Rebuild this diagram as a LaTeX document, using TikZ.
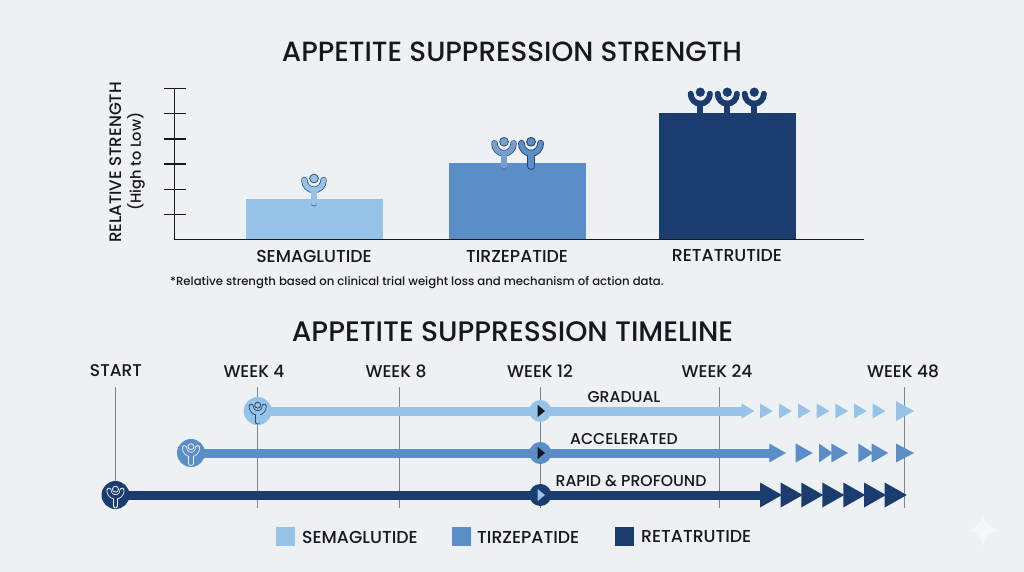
\documentclass[tikz,border=0pt]{standalone}
\usepackage{fontspec}
\setmainfont{Poppins Medium}
\definecolor{bgc}{HTML}{EDF1F4}
\definecolor{sem}{HTML}{96C3E7}
\definecolor{tir}{HTML}{5B8EC6}
\definecolor{ret}{HTML}{1A3C6E}
\definecolor{ink}{HTML}{15181C}
\definecolor{rule}{HTML}{7F8488}
\definecolor{iconline}{HTML}{24466F}
\newcommand{\fs}[1]{\fontsize{#1}{#1}\selectfont}
\tikzset{
  x=1pt,y=-1pt,
  txt/.style={text=ink,inner sep=0pt,anchor=center},
  titletxt/.style={txt,font=\fs{27.8}},
  weektxt/.style={txt,font=\fs{17}},
  cattxt/.style={txt,font=\fs{17.3}},
  legtxt/.style={txt,font=\fs{17.3},anchor=west},
  phasetxt/.style={txt,font=\fs{15.7}},
  vrule/.style={draw=rule,line width=0.9pt},
  axisline/.style={draw=ink,line width=1.1pt},
  startdot/.style={circle,minimum size=28pt,inner sep=0pt},
  weekdot/.style={circle,minimum size=22pt,inner sep=0pt},
  track/.style={line width=9pt},
}
% x, y (head centre), scale, fill, outline, outline width
\newcommand{\person}[6]{%
  \begin{scope}[shift={(#1,#2)},scale=#3,line cap=round]
    \draw[#5,line width=#3*5pt+2*#6] (-9.6,1) .. controls (-9.6,6.5) and (-5.4,11) .. (0,11) .. controls (5.4,11) and (9.6,6.5) .. (9.6,1);
    \draw[#5,line width=#3*5.4pt+2*#6] (0,11) -- (0,24);
    \draw[#4,line width=#3*5pt] (-9.6,1) .. controls (-9.6,6.5) and (-5.4,11) .. (0,11) .. controls (5.4,11) and (9.6,6.5) .. (9.6,1);
    \draw[#4,line width=#3*5.4pt] (0,11) -- (0,24);
    \fill[#4,draw=#5,line width=#6] (0,-0.5) circle[radius=4.4];
  \end{scope}}
\newcommand{\tri}[5]{\fill[#5] (#1,#3-#4) -- (#2,#3) -- (#1,#3+#4) -- cycle;}
\begin{document}
\begin{tikzpicture}
\useasboundingbox (0,0) rectangle (1024,572);
\fill[bgc] (0,0) rectangle (1024,572);

% titles
\node[titletxt] (t1) at (512,52) {APPETITE SUPPRESSION STRENGTH};
\node[titletxt,font=\fs{28.2}] (t2) at (512.5,332) {APPETITE SUPPRESSION TIMELINE};

% chart bars
\fill[sem] (246,199) rectangle (383,239);
\fill[tir] (449,162.7) rectangle (586,239);
\fill[ret] (659,113.3) rectangle (795.7,239);

% axes
\draw[axisline] (174.5,88.3) -- (174.5,239.3) -- (864,239.3);
\foreach \yy in {88.5,113.7,139,164,189.2,214.5}
  {\draw[axisline] (164,\yy) -- (185.5,\yy);}

% icons on bars
\person{314}{179}{1}{sem}{iconline}{0.7pt}
\person{504}{142.3}{1}{tir!85!white}{iconline}{0.7pt}
\person{531}{142.3}{1}{tir}{iconline}{0.9pt}
\person{700.3}{92.7}{1}{ret}{ret}{0.4pt}
\person{727.3}{92.7}{1}{ret}{ret}{0.4pt}
\person{754.3}{92.7}{1}{ret}{ret}{0.4pt}

% chart text
\node[txt,rotate=90,font=\fs{16.6}] (ylab1) at (116,162.5) {RELATIVE STRENGTH};
\node[txt,rotate=90,font=\fs{14.6}] (ylab2) at (136,161.5) {(High to Low)};
\node[cattxt] (c1) at (314,256) {SEMAGLUTIDE};
\node[cattxt] (c2) at (517,256) {TIRZEPATIDE};
\node[cattxt] (c3) at (727,256) {RETATRUTIDE};
\node[txt,anchor=west,font=\fs{11.7}] (note) at (170,282.5) {*Relative strength based on clinical trial weight loss and mechanism of action data.};

% week labels and rules
\node[weektxt] (w0) at (116,371) {START};
\node[weektxt] (w4) at (254,371) {WEEK 4};
\node[weektxt] (w8) at (396,371) {WEEK 8};
\node[weektxt] (w12) at (540,371) {WEEK 12};
\node[weektxt] (w24) at (717,371) {WEEK 24};
\node[weektxt] (w48) at (903,371) {WEEK 48};
\coordinate (r0) at (115.5,495);
\coordinate (r4) at (257.5,507.7);
\coordinate (r8) at (399,507.7);
\coordinate (r12) at (540.3,507.7);
\coordinate (r24) at (719,507.7);
\coordinate (r48) at (904.7,507.7);
\draw[vrule] (115.5,387) -- (r0);
\draw[vrule] (257.5,387) -- (r4);
\draw[vrule] (399,387) -- (r8);
\draw[vrule] (540.3,387) -- (r12);
\draw[vrule] (719,387) -- (r24);
\draw[vrule] (904.7,387) -- (r48);

% timeline dots
\node[startdot,fill=sem] (s1) at (257.7,411) {};
\node[startdot,fill=tir] (s2) at (191,453) {};
\node[startdot,fill=ret] (s3) at (115.5,495) {};
\node[weekdot,fill=sem] (m1) at (540.3,411) {};
\node[weekdot,fill=tir] (m2) at (540.3,453) {};
\node[weekdot,fill=ret] (m3) at (540.3,495) {};
\coordinate (e1) at (743,411);
\coordinate (e2) at (770,453);
\coordinate (e3) at (761,495);

% tracks
\draw[sem,track] (s1.center) -- (m1.center) -- (e1);
\draw[tir,track] (s2.center) -- (m2.center) -- (e2);
\draw[ret,track] (s3.center) -- (m3.center) -- (e3);

% icons in start dots
\person{257.7}{405.5}{0.68}{sem}{iconline}{0.8pt}
\person{191}{447}{0.68}{tir}{bgc}{0.8pt}
\person{115.5}{489.5}{0.68}{ret}{bgc}{0.8pt}

% triangles at week 12
\tri{537.7}{545}{411}{6}{ink}
\tri{537.7}{545}{453}{6}{ink}
\tri{537.7}{545}{495}{6}{sem}

% arrowheads: semaglutide
\tri{741.7}{754.3}{411}{7.5}{sem}
\foreach \bx in {760,779,798,816.7,835.3,854,872.7}
  {\tri{\bx}{\bx+12.7}{411}{7.5}{sem}}
\tri{896}{914}{411}{10}{sem}
% tirzepatide
\tri{769.3}{786}{453}{9.5}{tir}
\tri{795.7}{812.7}{453}{9.5}{tir}
\tri{819}{832.7}{453}{9.5}{tir}
\tri{831.3}{848}{453}{9.5}{tir}
\tri{858.3}{873.3}{453}{9.5}{tir}
\tri{871.7}{888.3}{453}{9.5}{tir}
\tri{896}{914}{453}{9.5}{tir}
% retatrutide
\foreach \bx in {760,780.7,801.3,822.3,843.3,864,884.7}
  {\tri{\bx}{\bx+22}{495}{12.5}{ret}}

% phase labels
\node[phasetxt] (p1) at (624,397) {GRADUAL};
\node[phasetxt] (p2) at (624,439) {ACCELERATED};
\node[phasetxt] (p3) at (631,481) {RAPID \& PROFOUND};

% legend
\fill[sem] (276,527) rectangle (295,546);
\fill[tir] (452,527) rectangle (471,546);
\fill[ret] (615,527) rectangle (634,546);
\node[legtxt] (l1) at (302,537) {SEMAGLUTIDE};
\node[legtxt] (l2) at (477,537) {TIRZEPATIDE};
\node[legtxt] (l3) at (641,537) {RETATRUTIDE};

% sparkle
\fill[white,opacity=0.45] (983,513) .. controls (985,524) and (989,528) .. (1000,530)
  .. controls (989,532) and (985,536) .. (983,547)
  .. controls (981,536) and (977,532) .. (966,530)
  .. controls (977,528) and (981,524) .. (983,513) -- cycle;
\end{tikzpicture}
\end{document}
